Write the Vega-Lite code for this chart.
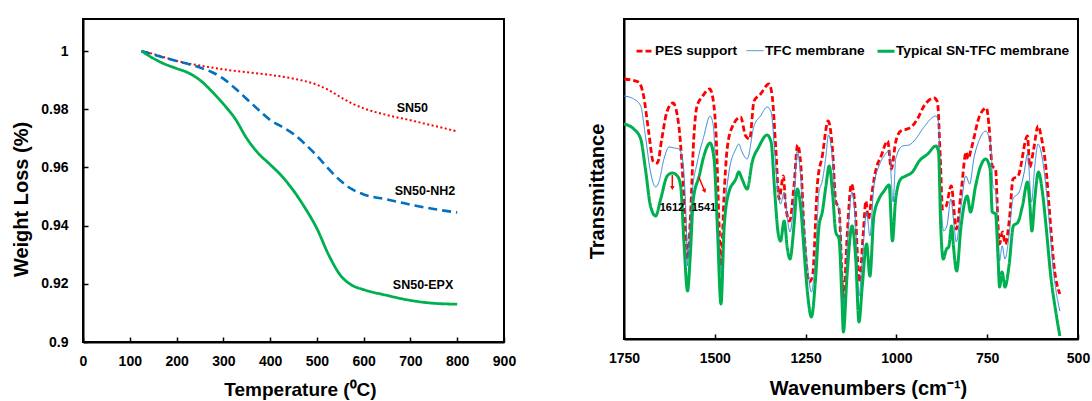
{
 "$schema": "https://vega.github.io/schema/vega-lite/v6.json",
 "padding": {"left": 10, "top": 18, "right": 0, "bottom": 5},
 "spacing": 69,
 "resolve": {"scale": {"color": "independent", "strokeDash": "independent", "strokeWidth": "independent"}, "legend": {"color": "independent", "strokeDash": "independent", "strokeWidth": "independent"}},
 "config": {
  "font": "Liberation Sans",
  "view": {"stroke": "#000000", "strokeWidth": 2, "strokeOpacity": 1},
  "axis": {"grid": false, "domain": true, "domainColor": "#000000", "domainOpacity": 1, "domainWidth": 2, "labelFlush": false, "labelFont": "Liberation Sans", "labelFontSize": 14, "labelFontWeight": "bold", "labelColor": "#000", "titleFont": "Liberation Sans", "titleFontSize": 20, "titleFontWeight": "bold", "titleColor": "#000", "tickColor": "#000000", "tickOpacity": 1, "tickWidth": 1.5, "tickSize": -5, "labelPadding": 17, "titleAlign": "center", "titleBaseline": "middle"},
  "legend": {"labelFont": "Liberation Sans", "labelFontSize": 13.7, "labelFontWeight": "bold", "labelColor": "#000", "padding": 0, "labelLimit": 400}
 },
 "datasets": {
  "tga": [
   {"s":"SN50","T":125,"w":1.0},{"s":"SN50","T":150,"w":0.999},{"s":"SN50","T":200,"w":0.9966},{"s":"SN50","T":250,"w":0.995},{"s":"SN50","T":300,"w":0.9937},{"s":"SN50","T":350,"w":0.9927},{"s":"SN50","T":400,"w":0.9918},{"s":"SN50","T":450,"w":0.9905},{"s":"SN50","T":500,"w":0.9884},{"s":"SN50","T":525,"w":0.9866},{"s":"SN50","T":550,"w":0.9842},{"s":"SN50","T":575,"w":0.982},{"s":"SN50","T":600,"w":0.9803},{"s":"SN50","T":650,"w":0.978},{"s":"SN50","T":700,"w":0.9762},{"s":"SN50","T":750,"w":0.9743},{"s":"SN50","T":800,"w":0.9724},
   {"s":"SN50-NH2","T":125,"w":1.0},{"s":"SN50-NH2","T":150,"w":0.9988},{"s":"SN50-NH2","T":200,"w":0.9966},{"s":"SN50-NH2","T":250,"w":0.9943},{"s":"SN50-NH2","T":275,"w":0.9928},{"s":"SN50-NH2","T":300,"w":0.9905},{"s":"SN50-NH2","T":325,"w":0.9872},{"s":"SN50-NH2","T":350,"w":0.9835},{"s":"SN50-NH2","T":375,"w":0.9798},{"s":"SN50-NH2","T":400,"w":0.9763},{"s":"SN50-NH2","T":425,"w":0.974},{"s":"SN50-NH2","T":450,"w":0.9715},{"s":"SN50-NH2","T":475,"w":0.968},{"s":"SN50-NH2","T":500,"w":0.964},{"s":"SN50-NH2","T":525,"w":0.9595},{"s":"SN50-NH2","T":550,"w":0.9555},{"s":"SN50-NH2","T":575,"w":0.9525},{"s":"SN50-NH2","T":600,"w":0.9507},{"s":"SN50-NH2","T":650,"w":0.949},{"s":"SN50-NH2","T":700,"w":0.9472},{"s":"SN50-NH2","T":750,"w":0.9457},{"s":"SN50-NH2","T":800,"w":0.9445},
   {"s":"SN50-EPX","T":125,"w":1.0},{"s":"SN50-EPX","T":150,"w":0.9975},{"s":"SN50-EPX","T":175,"w":0.9955},{"s":"SN50-EPX","T":200,"w":0.994},{"s":"SN50-EPX","T":225,"w":0.9925},{"s":"SN50-EPX","T":250,"w":0.99},{"s":"SN50-EPX","T":275,"w":0.9862},{"s":"SN50-EPX","T":300,"w":0.9818},{"s":"SN50-EPX","T":325,"w":0.9768},{"s":"SN50-EPX","T":350,"w":0.97},{"s":"SN50-EPX","T":375,"w":0.9648},{"s":"SN50-EPX","T":400,"w":0.961},{"s":"SN50-EPX","T":425,"w":0.957},{"s":"SN50-EPX","T":450,"w":0.952},{"s":"SN50-EPX","T":475,"w":0.946},{"s":"SN50-EPX","T":500,"w":0.939},{"s":"SN50-EPX","T":525,"w":0.93},{"s":"SN50-EPX","T":550,"w":0.923},{"s":"SN50-EPX","T":575,"w":0.9195},{"s":"SN50-EPX","T":600,"w":0.918},{"s":"SN50-EPX","T":650,"w":0.916},{"s":"SN50-EPX","T":700,"w":0.9143},{"s":"SN50-EPX","T":750,"w":0.9133},{"s":"SN50-EPX","T":800,"w":0.913}
  ],
  "tgaLabels": [
   {"label":"SN50","T":704,"w":0.9804},
   {"label":"SN50-NH2","T":731,"w":0.952},
   {"label":"SN50-EPX","T":727,"w":0.9196}
  ],
  "ftir": [
   {"s":"PES support","wn":1749,"v":260},{"s":"PES support","wn":1710,"v":257},{"s":"PES support","wn":1696,"v":243},{"s":"PES support","wn":1682,"v":207},{"s":"PES support","wn":1669,"v":177},{"s":"PES support","wn":1658,"v":176},{"s":"PES support","wn":1646,"v":200},{"s":"PES support","wn":1632,"v":227},{"s":"PES support","wn":1615,"v":236},{"s":"PES support","wn":1599,"v":213},{"s":"PES support","wn":1590,"v":173},{"s":"PES support","wn":1581,"v":113},{"s":"PES support","wn":1575,"v":80},{"s":"PES support","wn":1567,"v":123},{"s":"PES support","wn":1558,"v":200},{"s":"PES support","wn":1549,"v":233},{"s":"PES support","wn":1535,"v":242},{"s":"PES support","wn":1514,"v":250},{"s":"PES support","wn":1505,"v":240},{"s":"PES support","wn":1496,"v":200},{"s":"PES support","wn":1489,"v":123},{"s":"PES support","wn":1483,"v":73},{"s":"PES support","wn":1475,"v":140},{"s":"PES support","wn":1466,"v":190},{"s":"PES support","wn":1452,"v":212},{"s":"PES support","wn":1429,"v":222},{"s":"PES support","wn":1415,"v":203},{"s":"PES support","wn":1404,"v":200},{"s":"PES support","wn":1392,"v":238},{"s":"PES support","wn":1374,"v":245},{"s":"PES support","wn":1351,"v":255},{"s":"PES support","wn":1342,"v":243},{"s":"PES support","wn":1332,"v":190},{"s":"PES support","wn":1323,"v":140},{"s":"PES support","wn":1311,"v":163},{"s":"PES support","wn":1305,"v":133},{"s":"PES support","wn":1294,"v":118},{"s":"PES support","wn":1282,"v":153},{"s":"PES support","wn":1272,"v":194},{"s":"PES support","wn":1263,"v":173},{"s":"PES support","wn":1254,"v":107},{"s":"PES support","wn":1240,"v":57},{"s":"PES support","wn":1231,"v":63},{"s":"PES support","wn":1217,"v":157},{"s":"PES support","wn":1204,"v":183},{"s":"PES support","wn":1188,"v":218},{"s":"PES support","wn":1176,"v":190},{"s":"PES support","wn":1167,"v":138},{"s":"PES support","wn":1158,"v":130},{"s":"PES support","wn":1146,"v":40},{"s":"PES support","wn":1135,"v":107},{"s":"PES support","wn":1124,"v":155},{"s":"PES support","wn":1114,"v":133},{"s":"PES support","wn":1102,"v":57},{"s":"PES support","wn":1091,"v":107},{"s":"PES support","wn":1084,"v":138},{"s":"PES support","wn":1077,"v":120},{"s":"PES support","wn":1067,"v":147},{"s":"PES support","wn":1056,"v":170},{"s":"PES support","wn":1042,"v":183},{"s":"PES support","wn":1024,"v":198},{"s":"PES support","wn":1014,"v":170},{"s":"PES support","wn":1002,"v":197},{"s":"PES support","wn":988,"v":208},{"s":"PES support","wn":970,"v":210},{"s":"PES support","wn":956,"v":213},{"s":"PES support","wn":942,"v":220},{"s":"PES support","wn":924,"v":233},{"s":"PES support","wn":896,"v":241},{"s":"PES support","wn":887,"v":237},{"s":"PES support","wn":879,"v":180},{"s":"PES support","wn":873,"v":130},{"s":"PES support","wn":864,"v":132},{"s":"PES support","wn":849,"v":153},{"s":"PES support","wn":835,"v":110},{"s":"PES support","wn":821,"v":150},{"s":"PES support","wn":808,"v":187},{"s":"PES support","wn":803,"v":180},{"s":"PES support","wn":794,"v":190},{"s":"PES support","wn":771,"v":223},{"s":"PES support","wn":752,"v":231},{"s":"PES support","wn":745,"v":213},{"s":"PES support","wn":736,"v":173},{"s":"PES support","wn":727,"v":170},{"s":"PES support","wn":720,"v":113},{"s":"PES support","wn":716,"v":95},{"s":"PES support","wn":708,"v":107},{"s":"PES support","wn":700,"v":95},{"s":"PES support","wn":688,"v":123},{"s":"PES support","wn":679,"v":160},{"s":"PES support","wn":665,"v":163},{"s":"PES support","wn":639,"v":203},{"s":"PES support","wn":633,"v":172},{"s":"PES support","wn":622,"v":190},{"s":"PES support","wn":610,"v":213},{"s":"PES support","wn":600,"v":200},{"s":"PES support","wn":588,"v":170},{"s":"PES support","wn":579,"v":130},{"s":"PES support","wn":566,"v":73},{"s":"PES support","wn":550,"v":45},
   {"s":"TFC membrane","wn":1750,"v":243},{"s":"TFC membrane","wn":1723,"v":240},{"s":"TFC membrane","wn":1704,"v":233},{"s":"TFC membrane","wn":1691,"v":203},{"s":"TFC membrane","wn":1677,"v":167},{"s":"TFC membrane","wn":1663,"v":152},{"s":"TFC membrane","wn":1654,"v":157},{"s":"TFC membrane","wn":1640,"v":180},{"s":"TFC membrane","wn":1626,"v":192},{"s":"TFC membrane","wn":1612,"v":191},{"s":"TFC membrane","wn":1599,"v":190},{"s":"TFC membrane","wn":1589,"v":180},{"s":"TFC membrane","wn":1580,"v":130},{"s":"TFC membrane","wn":1575,"v":73},{"s":"TFC membrane","wn":1571,"v":97},{"s":"TFC membrane","wn":1562,"v":147},{"s":"TFC membrane","wn":1548,"v":177},{"s":"TFC membrane","wn":1530,"v":203},{"s":"TFC membrane","wn":1513,"v":223},{"s":"TFC membrane","wn":1504,"v":213},{"s":"TFC membrane","wn":1497,"v":163},{"s":"TFC membrane","wn":1488,"v":97},{"s":"TFC membrane","wn":1482,"v":63},{"s":"TFC membrane","wn":1474,"v":120},{"s":"TFC membrane","wn":1461,"v":167},{"s":"TFC membrane","wn":1442,"v":190},{"s":"TFC membrane","wn":1434,"v":195},{"s":"TFC membrane","wn":1425,"v":187},{"s":"TFC membrane","wn":1411,"v":180},{"s":"TFC membrane","wn":1392,"v":213},{"s":"TFC membrane","wn":1374,"v":223},{"s":"TFC membrane","wn":1356,"v":232},{"s":"TFC membrane","wn":1345,"v":227},{"s":"TFC membrane","wn":1335,"v":187},{"s":"TFC membrane","wn":1326,"v":147},{"s":"TFC membrane","wn":1319,"v":135},{"s":"TFC membrane","wn":1309,"v":147},{"s":"TFC membrane","wn":1300,"v":120},{"s":"TFC membrane","wn":1293,"v":107},{"s":"TFC membrane","wn":1282,"v":140},{"s":"TFC membrane","wn":1273,"v":188},{"s":"TFC membrane","wn":1263,"v":160},{"s":"TFC membrane","wn":1254,"v":113},{"s":"TFC membrane","wn":1245,"v":73},{"s":"TFC membrane","wn":1234,"v":47},{"s":"TFC membrane","wn":1222,"v":87},{"s":"TFC membrane","wn":1213,"v":147},{"s":"TFC membrane","wn":1204,"v":158},{"s":"TFC membrane","wn":1194,"v":183},{"s":"TFC membrane","wn":1187,"v":204},{"s":"TFC membrane","wn":1176,"v":180},{"s":"TFC membrane","wn":1167,"v":137},{"s":"TFC membrane","wn":1158,"v":130},{"s":"TFC membrane","wn":1148,"v":53},{"s":"TFC membrane","wn":1144,"v":32},{"s":"TFC membrane","wn":1135,"v":97},{"s":"TFC membrane","wn":1122,"v":147},{"s":"TFC membrane","wn":1112,"v":113},{"s":"TFC membrane","wn":1103,"v":43},{"s":"TFC membrane","wn":1094,"v":80},{"s":"TFC membrane","wn":1082,"v":127},{"s":"TFC membrane","wn":1073,"v":103},{"s":"TFC membrane","wn":1062,"v":153},{"s":"TFC membrane","wn":1048,"v":173},{"s":"TFC membrane","wn":1034,"v":183},{"s":"TFC membrane","wn":1020,"v":188},{"s":"TFC membrane","wn":1009,"v":137},{"s":"TFC membrane","wn":1002,"v":180},{"s":"TFC membrane","wn":983,"v":193},{"s":"TFC membrane","wn":965,"v":194},{"s":"TFC membrane","wn":947,"v":200},{"s":"TFC membrane","wn":924,"v":212},{"s":"TFC membrane","wn":891,"v":223},{"s":"TFC membrane","wn":884,"v":217},{"s":"TFC membrane","wn":878,"v":147},{"s":"TFC membrane","wn":870,"v":108},{"s":"TFC membrane","wn":861,"v":113},{"s":"TFC membrane","wn":850,"v":140},{"s":"TFC membrane","wn":843,"v":120},{"s":"TFC membrane","wn":835,"v":97},{"s":"TFC membrane","wn":822,"v":133},{"s":"TFC membrane","wn":809,"v":163},{"s":"TFC membrane","wn":798,"v":155},{"s":"TFC membrane","wn":787,"v":180},{"s":"TFC membrane","wn":773,"v":198},{"s":"TFC membrane","wn":754,"v":208},{"s":"TFC membrane","wn":740,"v":193},{"s":"TFC membrane","wn":734,"v":153},{"s":"TFC membrane","wn":727,"v":148},{"s":"TFC membrane","wn":720,"v":107},{"s":"TFC membrane","wn":716,"v":78},{"s":"TFC membrane","wn":709,"v":93},{"s":"TFC membrane","wn":701,"v":80},{"s":"TFC membrane","wn":690,"v":103},{"s":"TFC membrane","wn":679,"v":140},{"s":"TFC membrane","wn":662,"v":147},{"s":"TFC membrane","wn":648,"v":167},{"s":"TFC membrane","wn":639,"v":185},{"s":"TFC membrane","wn":628,"v":137},{"s":"TFC membrane","wn":619,"v":173},{"s":"TFC membrane","wn":610,"v":195},{"s":"TFC membrane","wn":598,"v":180},{"s":"TFC membrane","wn":584,"v":137},{"s":"TFC membrane","wn":566,"v":63},{"s":"TFC membrane","wn":550,"v":28},
   {"s":"Typical SN-TFC membrane","wn":1750,"v":215},{"s":"Typical SN-TFC membrane","wn":1723,"v":210},{"s":"Typical SN-TFC membrane","wn":1704,"v":200},{"s":"Typical SN-TFC membrane","wn":1691,"v":170},{"s":"Typical SN-TFC membrane","wn":1677,"v":133},{"s":"Typical SN-TFC membrane","wn":1663,"v":123},{"s":"Typical SN-TFC membrane","wn":1649,"v":140},{"s":"Typical SN-TFC membrane","wn":1631,"v":163},{"s":"Typical SN-TFC membrane","wn":1617,"v":166},{"s":"Typical SN-TFC membrane","wn":1603,"v":163},{"s":"Typical SN-TFC membrane","wn":1594,"v":153},{"s":"Typical SN-TFC membrane","wn":1585,"v":97},{"s":"Typical SN-TFC membrane","wn":1575,"v":48},{"s":"Typical SN-TFC membrane","wn":1568,"v":80},{"s":"Typical SN-TFC membrane","wn":1559,"v":140},{"s":"Typical SN-TFC membrane","wn":1543,"v":163},{"s":"Typical SN-TFC membrane","wn":1530,"v":183},{"s":"Typical SN-TFC membrane","wn":1513,"v":196},{"s":"Typical SN-TFC membrane","wn":1502,"v":180},{"s":"Typical SN-TFC membrane","wn":1493,"v":113},{"s":"Typical SN-TFC membrane","wn":1483,"v":35},{"s":"Typical SN-TFC membrane","wn":1474,"v":113},{"s":"Typical SN-TFC membrane","wn":1461,"v":147},{"s":"Typical SN-TFC membrane","wn":1442,"v":160},{"s":"Typical SN-TFC membrane","wn":1434,"v":167},{"s":"Typical SN-TFC membrane","wn":1425,"v":160},{"s":"Typical SN-TFC membrane","wn":1411,"v":150},{"s":"Typical SN-TFC membrane","wn":1397,"v":177},{"s":"Typical SN-TFC membrane","wn":1379,"v":192},{"s":"Typical SN-TFC membrane","wn":1356,"v":204},{"s":"Typical SN-TFC membrane","wn":1345,"v":197},{"s":"Typical SN-TFC membrane","wn":1335,"v":147},{"s":"Typical SN-TFC membrane","wn":1326,"v":107},{"s":"Typical SN-TFC membrane","wn":1319,"v":98},{"s":"Typical SN-TFC membrane","wn":1309,"v":118},{"s":"Typical SN-TFC membrane","wn":1300,"v":90},{"s":"Typical SN-TFC membrane","wn":1293,"v":80},{"s":"Typical SN-TFC membrane","wn":1282,"v":113},{"s":"Typical SN-TFC membrane","wn":1273,"v":150},{"s":"Typical SN-TFC membrane","wn":1263,"v":130},{"s":"Typical SN-TFC membrane","wn":1254,"v":87},{"s":"Typical SN-TFC membrane","wn":1245,"v":47},{"s":"Typical SN-TFC membrane","wn":1234,"v":22},{"s":"Typical SN-TFC membrane","wn":1222,"v":63},{"s":"Typical SN-TFC membrane","wn":1213,"v":113},{"s":"Typical SN-TFC membrane","wn":1204,"v":127},{"s":"Typical SN-TFC membrane","wn":1194,"v":153},{"s":"Typical SN-TFC membrane","wn":1185,"v":173},{"s":"Typical SN-TFC membrane","wn":1176,"v":147},{"s":"Typical SN-TFC membrane","wn":1167,"v":107},{"s":"Typical SN-TFC membrane","wn":1158,"v":100},{"s":"Typical SN-TFC membrane","wn":1150,"v":40},{"s":"Typical SN-TFC membrane","wn":1146,"v":7},{"s":"Typical SN-TFC membrane","wn":1136,"v":63},{"s":"Typical SN-TFC membrane","wn":1122,"v":113},{"s":"Typical SN-TFC membrane","wn":1112,"v":80},{"s":"Typical SN-TFC membrane","wn":1103,"v":17},{"s":"Typical SN-TFC membrane","wn":1094,"v":53},{"s":"Typical SN-TFC membrane","wn":1082,"v":95},{"s":"Typical SN-TFC membrane","wn":1073,"v":63},{"s":"Typical SN-TFC membrane","wn":1062,"v":123},{"s":"Typical SN-TFC membrane","wn":1048,"v":140},{"s":"Typical SN-TFC membrane","wn":1034,"v":148},{"s":"Typical SN-TFC membrane","wn":1020,"v":154},{"s":"Typical SN-TFC membrane","wn":1011,"v":98},{"s":"Typical SN-TFC membrane","wn":1002,"v":140},{"s":"Typical SN-TFC membrane","wn":988,"v":160},{"s":"Typical SN-TFC membrane","wn":974,"v":163},{"s":"Typical SN-TFC membrane","wn":956,"v":167},{"s":"Typical SN-TFC membrane","wn":937,"v":178},{"s":"Typical SN-TFC membrane","wn":914,"v":185},{"s":"Typical SN-TFC membrane","wn":891,"v":193},{"s":"Typical SN-TFC membrane","wn":884,"v":187},{"s":"Typical SN-TFC membrane","wn":878,"v":113},{"s":"Typical SN-TFC membrane","wn":871,"v":80},{"s":"Typical SN-TFC membrane","wn":862,"v":90},{"s":"Typical SN-TFC membrane","wn":856,"v":92},{"s":"Typical SN-TFC membrane","wn":848,"v":113},{"s":"Typical SN-TFC membrane","wn":843,"v":93},{"s":"Typical SN-TFC membrane","wn":834,"v":68},{"s":"Typical SN-TFC membrane","wn":822,"v":113},{"s":"Typical SN-TFC membrane","wn":805,"v":143},{"s":"Typical SN-TFC membrane","wn":796,"v":127},{"s":"Typical SN-TFC membrane","wn":782,"v":153},{"s":"Typical SN-TFC membrane","wn":768,"v":173},{"s":"Typical SN-TFC membrane","wn":754,"v":180},{"s":"Typical SN-TFC membrane","wn":742,"v":170},{"s":"Typical SN-TFC membrane","wn":736,"v":127},{"s":"Typical SN-TFC membrane","wn":727,"v":125},{"s":"Typical SN-TFC membrane","wn":720,"v":80},{"s":"Typical SN-TFC membrane","wn":716,"v":52},{"s":"Typical SN-TFC membrane","wn":709,"v":67},{"s":"Typical SN-TFC membrane","wn":701,"v":52},{"s":"Typical SN-TFC membrane","wn":690,"v":73},{"s":"Typical SN-TFC membrane","wn":678,"v":113},{"s":"Typical SN-TFC membrane","wn":665,"v":117},{"s":"Typical SN-TFC membrane","wn":653,"v":133},{"s":"Typical SN-TFC membrane","wn":639,"v":157},{"s":"Typical SN-TFC membrane","wn":633,"v":137},{"s":"Typical SN-TFC membrane","wn":627,"v":108},{"s":"Typical SN-TFC membrane","wn":619,"v":140},{"s":"Typical SN-TFC membrane","wn":609,"v":167},{"s":"Typical SN-TFC membrane","wn":598,"v":147},{"s":"Typical SN-TFC membrane","wn":588,"v":113},{"s":"Typical SN-TFC membrane","wn":575,"v":63},{"s":"Typical SN-TFC membrane","wn":561,"v":27},{"s":"Typical SN-TFC membrane","wn":550,"v":3}
  ],
  "arrows": [
   {"id":"a1612","wn":1617,"v":164,"wn2":1617,"v2":151},
   {"id":"a1541","wn":1544,"v":162,"wn2":1528,"v2":148}
  ],
  "notes": [
   {"label":"1612","wn":1618,"v":131},
   {"label":"1541","wn":1530,"v":131}
  ]
 },
 "hconcat": [
  {
   "width": 421,
   "height": 323,
   "view": {"stroke": "#000000", "strokeWidth": 2},
   "layer": [
    {
     "data": {"name": "tga"},
     "mark": {"type": "line", "interpolate": "monotone", "strokeCap": "butt"},
     "encoding": {
      "x": {"field": "T", "type": "quantitative", "scale": {"domain": [0, 900], "nice": false}, "axis": {"values": [0,100,200,300,400,500,600,700,800,900], "title": "Temperature (⁰C)", "titleX": 217, "titleY": 47, "titleFontSize": 19}},
      "y": {"field": "w", "type": "quantitative", "scale": {"domain": [0.9, 1.011], "nice": false, "zero": false}, "axis": {"values": [0.9,0.92,0.94,0.96,0.98,1], "format": ".2~f", "labelPadding": 20, "title": "Weight Loss (%)", "titleX": -62, "titleY": 180}},
      "color": {"field": "s", "type": "nominal", "scale": {"domain": ["SN50","SN50-NH2","SN50-EPX"], "range": ["#FF0000","#0070C0","#00B050"]}, "legend": null},
      "strokeDash": {"field": "s", "type": "nominal", "scale": {"domain": ["SN50","SN50-NH2","SN50-EPX"], "range": [[2,2.5],[9,5],[1,0]]}, "legend": null},
      "strokeWidth": {"field": "s", "type": "nominal", "scale": {"type": "ordinal", "domain": ["SN50","SN50-NH2","SN50-EPX"], "range": [2,2.6,2.8]}, "legend": null}
     }
    },
    {
     "data": {"name": "tgaLabels"},
     "mark": {"type": "text", "font": "Liberation Sans", "fontWeight": "bold", "fontSize": 12.5, "color": "#000"},
     "encoding": {
      "x": {"field": "T", "type": "quantitative"},
      "y": {"field": "w", "type": "quantitative"},
      "text": {"field": "label"}
     }
    }
   ]
  },
  {
   "width": 454,
   "height": 320,
   "view": {"stroke": "#000000", "strokeWidth": 2},
   "layer": [
    {
     "data": {"name": "ftir"},
     "mark": {"type": "line", "interpolate": "monotone", "strokeCap": "butt"},
     "encoding": {
      "x": {"field": "wn", "type": "quantitative", "scale": {"domain": [500, 1750], "reverse": true, "nice": false}, "axis": {"values": [500,750,1000,1250,1500,1750], "format": "d", "title": "Wavenumbers (cm⁻¹)", "titleX": 244, "titleY": 49}},
      "y": {"field": "v", "type": "quantitative", "scale": {"domain": [0, 320], "nice": false}, "axis": {"labels": false, "ticks": false, "title": "Transmittance", "titleX": -27, "titleY": 172}},
      "color": {"field": "s", "type": "nominal", "scale": {"domain": ["PES support","TFC membrane","Typical SN-TFC membrane"], "range": ["#FF0000","#2F86D6","#00B050"]}, "legend": {"title": null, "orient": "none", "legendX": 11, "legendY": 22, "direction": "horizontal", "columns": 3, "symbolType": "stroke", "symbolSize": 289, "labelOffset": 0, "columnPadding": 6}},
      "strokeDash": {"field": "s", "type": "nominal", "scale": {"domain": ["PES support","TFC membrane","Typical SN-TFC membrane"], "range": [[6,3],[1,0],[1,0]]}, "legend": {"title": null, "orient": "none", "legendX": 11, "legendY": 22, "direction": "horizontal", "columns": 3, "symbolType": "stroke", "symbolSize": 289, "labelOffset": 0, "columnPadding": 6}},
      "strokeWidth": {"field": "s", "type": "nominal", "scale": {"type": "ordinal", "domain": ["PES support","TFC membrane","Typical SN-TFC membrane"], "range": [2.8,1,3]}, "legend": {"title": null, "orient": "none", "legendX": 11, "legendY": 22, "direction": "horizontal", "columns": 3, "symbolType": "stroke", "symbolSize": 289, "labelOffset": 0, "columnPadding": 6}}
     }
    },
    {
     "data": {"name": "arrows"},
     "mark": {"type": "rule", "color": "#FF0000", "strokeWidth": 1.5},
     "encoding": {
      "x": {"field": "wn", "type": "quantitative"},
      "y": {"field": "v", "type": "quantitative"},
      "x2": {"field": "wn2"},
      "y2": {"field": "v2"}
     }
    },
    {
     "data": {"name": "arrows"},
     "transform": [{"filter": "datum.id == 'a1612'"}],
     "mark": {"type": "point", "shape": "triangle-down", "filled": true, "color": "#FF0000", "size": 22, "opacity": 1},
     "encoding": {
      "x": {"field": "wn2", "type": "quantitative"},
      "y": {"field": "v2", "type": "quantitative"}
     }
    },
    {
     "data": {"name": "arrows"},
     "transform": [{"filter": "datum.id == 'a1541'"}],
     "mark": {"type": "point", "shape": "triangle-down", "filled": true, "color": "#FF0000", "size": 22, "opacity": 1, "angle": 338},
     "encoding": {
      "x": {"field": "wn2", "type": "quantitative"},
      "y": {"field": "v2", "type": "quantitative"}
     }
    },
    {
     "data": {"name": "notes"},
     "mark": {"type": "text", "font": "Liberation Sans", "fontWeight": "bold", "fontSize": 11, "color": "#000"},
     "encoding": {
      "x": {"field": "wn", "type": "quantitative"},
      "y": {"field": "v", "type": "quantitative"},
      "text": {"field": "label"}
     }
    }
   ]
  }
 ]
}
